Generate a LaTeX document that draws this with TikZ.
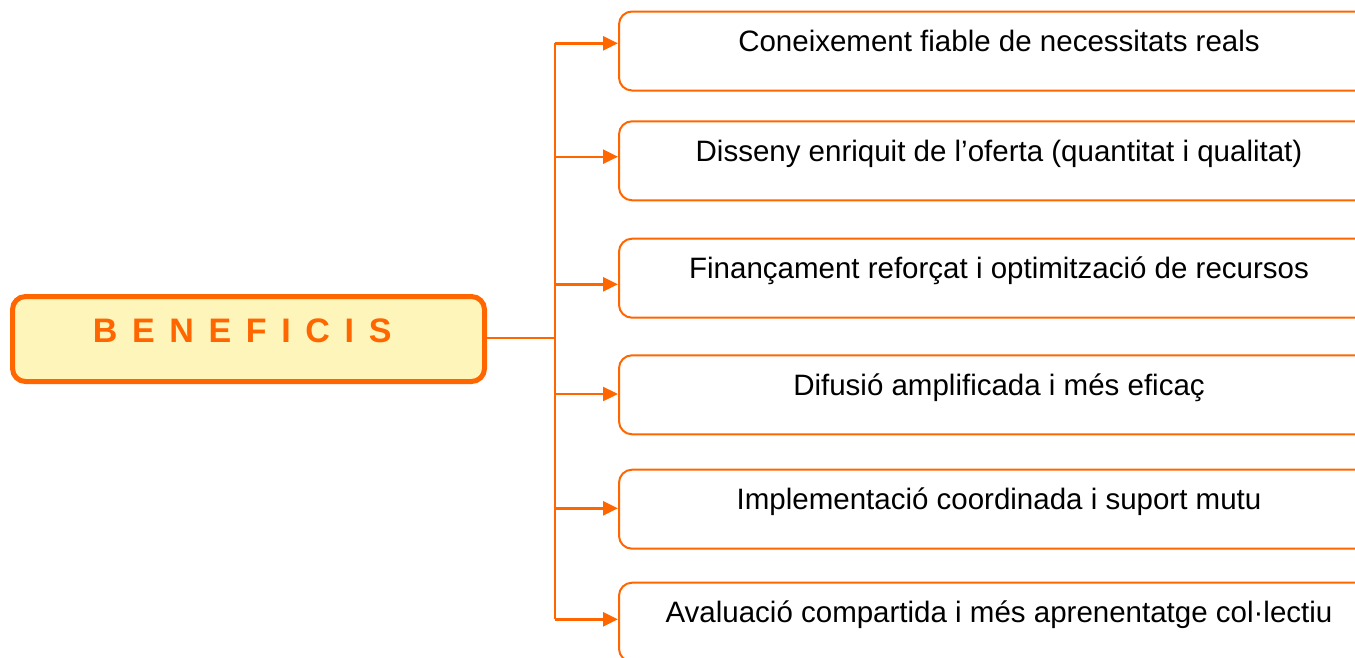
\documentclass[tikz,border=0pt]{standalone}
\usepackage{fontspec}
\setmainfont{Liberation Sans}
\newfontfamily\spacedbold[WordSpace=1.55]{Liberation Sans}
\usetikzlibrary{arrows.meta,calc}
\definecolor{orng}{RGB}{255,102,0}
\definecolor{paleyellow}{RGB}{253,245,185}
\tikzset{
  mainbox/.style={draw=orng, line width=5pt, fill=paleyellow, rounded corners=13pt,
    inner xsep=0pt, inner ysep=0pt, text height=46.2pt, text depth=38.8pt,
    font=\spacedbold\bfseries\fontsize{34}{38}\selectfont, text=orng},
  itembox/.style={draw=orng, line width=2pt, rounded corners=13pt, anchor=north west,
    minimum width=760pt, inner xsep=0pt, inner ysep=0pt, text height=40pt, text depth=39pt,
    font=\fontsize{29.5}{35}\selectfont, text=black},
  link/.style={draw=orng, line width=2.4pt},
  arr/.style={link, -{Triangle[length=15pt,width=14pt]}}
}
\begin{document}
\begin{tikzpicture}[x=1pt,y=-1pt]
\useasboundingbox (0,0) rectangle (1355,657);
\clip (0,0) rectangle (1355,657);
\node[mainbox] (main) at (248.5,339) {\makebox[472pt][l]{\hspace{80.5pt}B E N E F I C I S}};
\node[itembox] (b1) at (618,10.5) {Coneixement fiable de necessitats reals};
\node[itembox] (b2) at (618,120.3) {Disseny enriquit de l’oferta (quantitat i qualitat)};
\node[itembox] (b3) at (618,237.7) {Finançament reforçat i optimització de recursos};
\node[itembox] (b4) at (618,354.3) {Difusió amplificada i més eficaç};
\node[itembox] (b5) at (618,468.7) {Implementació coordinada i suport mutu};
\node[itembox] (b6) at (618,581.7) {Avaluació compartida i més aprenentatge col·lectiu};
\coordinate (a1) at (618,43.3);
\coordinate (a2) at (618,156.7);
\coordinate (a3) at (618,284.3);
\coordinate (a4) at (618,394);
\coordinate (a5) at (618,508.3);
\coordinate (a6) at (618,619.3);
\coordinate (s1) at (554.7,43.3);
\coordinate (s6) at (554.7,619.3);
\coordinate (sm) at (554.7,338);
\draw[link] (s1) -- (s6);
\draw[link, line width=1.8pt] (main.east |- sm) -- (sm);
\foreach \i in {1,...,6}{
  \draw[arr] (s1 |- a\i) -- (a\i);
}
\end{tikzpicture}
\end{document}
